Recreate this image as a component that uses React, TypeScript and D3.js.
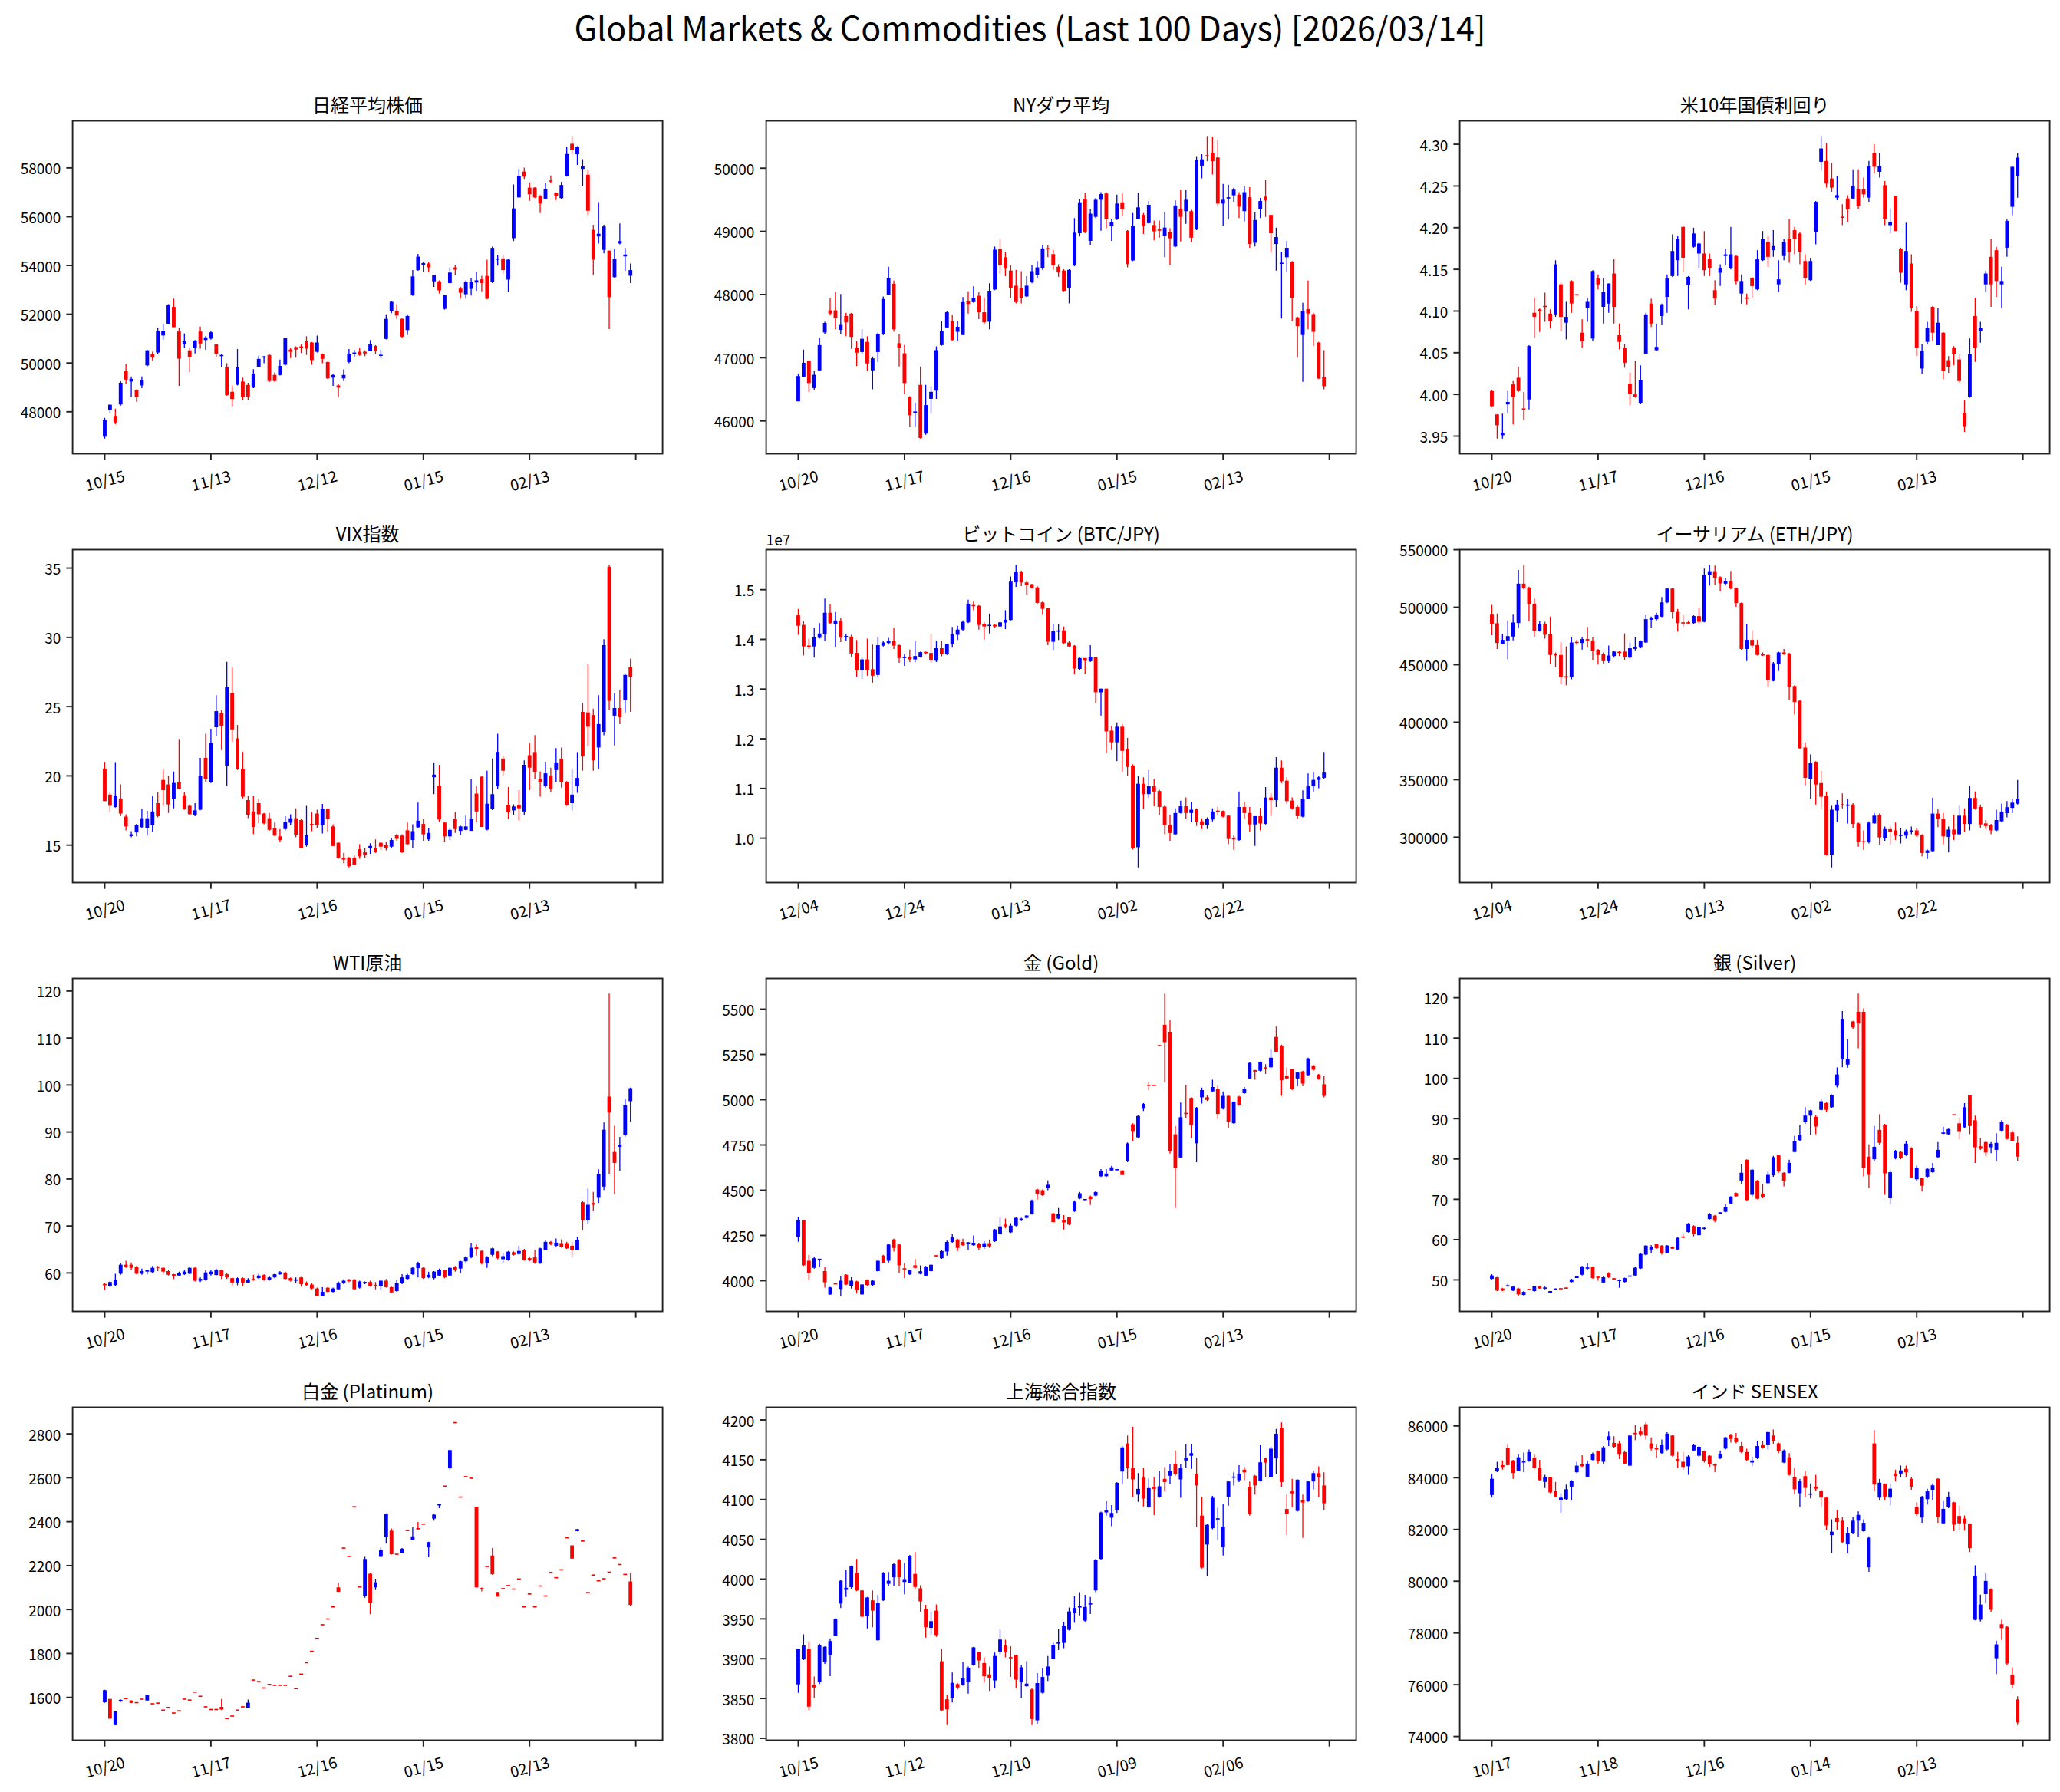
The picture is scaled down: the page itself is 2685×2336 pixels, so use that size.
import React from 'react';
import * as d3 from 'd3';

type OHLC = [number, number, number, number]; // open, high, low, close

// ---------- data ----------
const nikkeiOHLC: OHLC[] = [
[46980,47750,46900,47680],[48070,48340,47950,48290],[47830,48130,47490,47560],[48300,49250,48250,49190],[49670,49960,49140,49320],
[49240,49450,48620,49350],[48890,48920,48410,48620],[49080,49450,48970,49290],[49900,50540,49860,50520],[50360,50460,50110,50220],
[50430,51420,50360,51310],[51130,51630,50960,51310],[51600,52410,51600,52400],[52300,52640,51470,51470],[51290,51420,49060,50180],
[50780,51210,50620,50890],[50520,50620,49630,50230],[50620,50940,50390,50920],[51290,51490,50590,50800],[50940,51100,50540,51050],
[51000,51310,50960,51260],[50760,50780,50230,50380],[50280,50360,49850,50330],[49830,49990,48660,48680],[48820,49080,48230,48520],
[49110,50570,49080,49830],[49240,49400,48500,48620],[49100,49190,48500,48620],[48990,49750,48970,49560],[49850,50300,49830,50170],
[50220,50290,49990,50270],[50330,50360,49220,49260],[49510,49610,49240,49260],[49510,50140,49490,49880],[49930,51030,49900,51020],
[50550,50620,50200,50460],[50650,50680,50220,50550],[50680,50780,50410,50620],[50890,51100,50330,50590],[50840,50860,49930,50120],
[50460,51120,50430,50840],[50360,50390,49990,50170],[50040,50060,49350,49370],[49400,49560,49060,49510],[49080,49160,48620,48990],
[49370,49740,49260,49510],[50040,50570,49990,50380],[50360,50540,50250,50430],[50460,50620,50300,50330],[50460,50520,50280,50390],
[50500,50940,50490,50760],[50700,50730,50360,50500],[50300,50540,50200,50330],[50990,52000,50970,51810],[52140,52540,52040,52510],
[52150,52410,51810,51950],[51810,51830,51030,51080],[51350,52000,51150,51930],[52780,53810,52750,53550],[53810,54470,53780,54360],
[54020,54160,53740,54100],[54080,54130,53730,53920],[53350,53620,53120,53600],[53350,53390,52850,52980],[52220,52800,52190,52780],
[53280,53920,53260,53710],[53920,54030,53600,53830],[53050,53120,52640,52880],[52820,53390,52640,53330],[53040,53490,52770,53330],
[53300,53740,52960,53390],[53430,53580,52940,53280],[53570,54240,52610,52640],[53310,54770,53280,54720],[54240,54430,53990,54280],
[54290,54430,53670,53810],[53420,54260,52930,54240],[55120,57320,55000,56340],[56790,57960,56770,57660],[57850,58010,57550,57640],
[57190,57400,56650,56920],[57190,57210,56760,56790],[56840,56890,56150,56540],[56740,57370,56700,57130],[57470,57690,57370,57450],
[56980,57000,56680,56840],[56760,57430,56740,57300],[57670,58860,57640,58570],[58990,59310,58560,58750],[58560,58890,58120,58860],
[57960,58360,57270,58060],[57720,57900,56070,56240],[55460,55670,53620,54240],[55190,56600,54900,55300],[54640,55670,54500,55600],
[54610,54610,51390,52700],[53520,54690,53490,54260],[54900,55720,54870,55000],[54370,54720,53780,54450],[53580,54080,53280,53810],
];

const dowOHLC: OHLC[] = [
[46310,46750,46310,46710],[46700,47130,46690,46920],[46950,46960,46460,46600],[46520,46790,46490,46730],[46800,47320,46790,47200],
[47400,47570,47380,47550],[47750,47940,47670,47700],[47750,48040,47450,47630],[47440,48010,47370,47520],[47660,47710,47340,47560],
[47700,47710,47140,47330],[47150,47260,46870,47080],[47090,47450,47050,47300],[47250,47340,46790,46910],[46800,47020,46500,46990],
[47090,47400,46930,47370],[47370,47970,47360,47930],[48000,48440,47990,48260],[48170,48220,47410,47450],[47230,47380,46860,47150],
[47070,47200,46420,46600],[46380,46390,45910,46090],[46130,46290,45910,46150],[46570,46860,45720,45730],[45800,46570,45780,46250],
[46350,46550,46120,46460],[46480,47180,46350,47120],[47200,47580,47190,47430],[47480,47740,47470,47720],[47580,47680,47270,47280],
[47410,47580,47260,47490],[47360,47960,47360,47880],[47890,48050,47700,47850],[47880,48130,47870,47950],[47980,48040,47610,47720],
[47720,47950,47530,47560],[47570,48180,47450,48060],[48080,48760,48070,48710],[48720,48880,48330,48460],[48590,48670,48290,48410],
[48380,48460,47950,48100],[48140,48390,47860,47880],[48100,48370,47860,47950],[47970,48290,47960,48140],[48200,48460,48180,48370],
[48310,48530,48260,48430],[48420,48780,48390,48730],[48730,48780,48590,48720],[48640,48710,48390,48460],[48440,48480,48280,48350],
[48380,48400,48050,48060],[48100,48400,47860,48390],[48460,49210,48450,48980],[48970,49510,48920,49460],[49510,49610,48970,48990],
[48850,49350,48790,49280],[49230,49530,49210,49500],[49500,49620,49010,49590],[49600,49620,49050,49190],[49080,49200,48850,49150],
[49190,49580,49180,49440],[49460,49610,49250,49350],[49010,49020,48430,48480],[48540,49290,48530,49080],[49190,49610,49190,49380],
[49260,49290,48960,49090],[49130,49480,49120,49420],[49100,49170,48860,49000],[49030,49170,48900,49010],[48930,49300,48590,49060],
[48990,49050,48460,48890],[48760,49490,48750,49410],[49360,49650,48840,49230],[49320,49650,49120,49500],[49320,49340,48830,48900],
[49030,50180,49020,50130],[50040,50220,49840,50140],[50200,50510,50110,50190],[50240,50500,49900,50110],[50170,50450,49410,49440],
[49440,49750,49090,49500],[49520,49740,49190,49540],[49570,49690,49470,49660],[49580,49620,49210,49390],[49320,49710,49160,49620],
[49540,49700,48740,48800],[48820,49300,48760,49180],[49350,49530,49210,49480],[49550,49820,49230,49490],[49260,49260,48670,48970],
[48800,49060,48380,48910],[48490,48680,47620,48500],[48590,48850,48350,48740],[48520,48530,47580,47950],[47640,47650,47000,47500],
[47360,47870,46620,47740],[47770,48220,47450,47700],[47690,47710,47190,47410],[47240,47250,46660,46670],[46690,47120,46500,46550],
];

const us10yOHLC: OHLC[] = [
[4.004,4.005,3.985,3.986],[3.976,3.976,3.947,3.963],[3.951,3.977,3.947,3.954],[3.988,4.004,3.978,3.991],[4.012,4.016,3.964,3.997],
[4.020,4.033,4.003,4.004],[3.983,4.003,3.969,3.982],[3.994,4.059,3.982,4.058],[4.098,4.116,4.068,4.093],[4.102,4.103,4.075,4.100],
[4.106,4.122,4.087,4.105],[4.097,4.102,4.079,4.088],[4.096,4.161,4.093,4.156],[4.132,4.134,4.076,4.093],[4.086,4.111,4.066,4.093],
[4.136,4.137,4.098,4.109],[4.120,4.120,4.119,4.119],[4.074,4.090,4.056,4.064],[4.104,4.116,4.087,4.111],[4.067,4.149,4.064,4.148],
[4.139,4.144,4.126,4.132],[4.105,4.140,4.085,4.123],[4.109,4.133,4.098,4.133],[4.145,4.162,4.085,4.105],[4.071,4.085,4.054,4.063],
[4.056,4.060,4.032,4.038],[4.013,4.026,3.987,4.001],[4.000,4.040,3.996,3.997],[3.990,4.035,3.989,4.017],[4.049,4.098,4.049,4.096],
[4.109,4.115,4.081,4.085],[4.053,4.085,4.052,4.057],[4.094,4.109,4.083,4.108],[4.117,4.144,4.098,4.139],[4.142,4.192,4.141,4.172],
[4.161,4.190,4.142,4.186],[4.201,4.203,4.147,4.164],[4.131,4.142,4.102,4.141],[4.177,4.200,4.176,4.193],[4.169,4.182,4.151,4.181],
[4.169,4.196,4.142,4.149],[4.163,4.169,4.142,4.151],[4.125,4.137,4.107,4.115],[4.146,4.156,4.130,4.151],[4.166,4.175,4.155,4.168],
[4.151,4.201,4.150,4.168],[4.166,4.167,4.132,4.136],[4.121,4.144,4.109,4.136],[4.116,4.121,4.108,4.115],[4.140,4.141,4.115,4.130],
[4.126,4.173,4.125,4.162],[4.161,4.196,4.160,4.186],[4.183,4.190,4.153,4.165],[4.173,4.197,4.165,4.178],[4.132,4.161,4.123,4.138],
[4.166,4.186,4.161,4.183],[4.186,4.210,4.158,4.171],[4.197,4.201,4.168,4.186],[4.193,4.195,4.156,4.171],[4.160,4.168,4.132,4.140],
[4.137,4.164,4.136,4.160],[4.195,4.232,4.180,4.231],[4.279,4.310,4.269,4.295],[4.280,4.301,4.248,4.253],[4.259,4.277,4.243,4.248],
[4.236,4.262,4.233,4.239],[4.213,4.228,4.203,4.212],[4.235,4.239,4.207,4.222],[4.235,4.270,4.234,4.250],[4.246,4.270,4.222,4.226],
[4.246,4.260,4.236,4.240],[4.236,4.280,4.231,4.274],[4.290,4.300,4.266,4.273],[4.267,4.290,4.260,4.274],[4.251,4.256,4.203,4.210],
[4.203,4.223,4.193,4.207],[4.238,4.238,4.196,4.196],[4.175,4.176,4.134,4.146],[4.132,4.206,4.125,4.172],[4.157,4.168,4.099,4.104],
[4.100,4.106,4.046,4.056],[4.031,4.060,4.025,4.052],[4.063,4.087,4.060,4.080],[4.105,4.106,4.064,4.074],[4.059,4.104,4.059,4.086],
[4.074,4.075,4.018,4.028],[4.041,4.046,4.026,4.033],[4.056,4.058,4.035,4.048],[4.042,4.048,4.014,4.016],[3.978,3.993,3.955,3.962],
[3.997,4.067,3.996,4.048],[4.094,4.116,4.039,4.056],[4.076,4.087,4.062,4.080],[4.132,4.148,4.123,4.145],[4.165,4.187,4.105,4.132],
[4.173,4.177,4.117,4.136],[4.132,4.153,4.104,4.136],[4.176,4.210,4.165,4.208],[4.225,4.274,4.215,4.273],[4.262,4.290,4.236,4.284],
];

const vixOHLC: OHLC[] = [
[20.52,21.02,18.18,18.18],[18.65,18.87,17.38,17.84],[17.75,20.99,17.71,18.59],[18.37,19.38,17.09,17.28],[17.06,17.23,16.07,16.35],
[15.65,16.01,15.56,15.78],[15.92,16.53,15.64,16.44],[16.29,17.62,16.25,16.94],[16.25,17.47,15.69,16.94],[16.44,18.55,15.97,17.43],
[18.03,18.82,17.00,17.09],[19.71,20.46,17.84,18.97],[19.38,19.99,17.32,17.94],[18.35,20.31,17.66,19.49],[19.53,22.67,19.06,19.06],
[18.60,18.82,17.56,17.60],[17.84,17.94,17.19,17.23],[17.19,18.03,17.09,17.51],[17.56,21.30,17.52,20.00],[21.30,23.04,19.53,19.77],
[19.53,23.40,19.49,22.39],[23.51,25.83,22.89,24.67],[24.52,24.73,21.87,23.61],[20.74,28.23,19.25,26.39],[25.98,27.82,22.48,23.36],
[22.71,23.68,20.42,20.50],[20.52,21.73,18.37,18.50],[18.25,18.55,16.95,17.19],[17.43,18.55,15.78,16.31],[18.03,18.31,16.59,17.23],
[17.28,17.32,16.50,16.57],[16.94,17.32,16.03,16.10],[16.20,16.63,15.65,15.69],[15.63,16.16,15.22,15.37],[16.16,17.09,16.07,16.66],
[16.62,17.23,16.44,16.94],[16.94,17.66,15.56,15.75],[16.81,16.87,14.81,14.81],[15.00,17.84,14.89,15.73],[16.50,17.38,16.01,16.46],
[17.28,17.56,16.25,16.44],[16.44,17.97,15.84,17.62],[17.62,17.66,15.97,16.87],[16.35,16.50,14.94,14.94],[15.17,15.22,14.01,14.06],
[14.10,14.44,13.69,13.95],[14.10,14.14,13.39,13.48],[14.10,14.25,13.54,13.58],[14.70,15.07,14.01,14.19],[14.48,14.81,14.10,14.29],
[14.76,15.13,14.38,14.94],[14.81,15.41,14.44,14.48],[15.17,15.26,14.66,14.89],[15.04,15.22,14.63,14.76],[14.89,15.50,14.81,15.37],
[15.73,15.82,15.32,15.45],[15.69,15.78,14.44,14.48],[16.07,16.63,15.04,15.07],[15.37,16.50,14.76,16.01],[16.29,18.07,16.22,16.76],
[16.53,16.91,15.32,15.78],[15.41,16.25,15.32,15.88],[19.90,20.97,18.68,20.09],[19.30,20.80,16.68,16.85],[16.63,16.68,15.26,15.63],
[15.63,16.25,15.37,16.10],[16.87,17.38,15.88,16.16],[16.03,16.40,15.75,16.35],[16.10,17.13,16.07,16.35],[16.03,19.77,16.03,16.87],
[18.72,19.25,16.63,17.43],[19.94,20.00,16.31,16.31],[16.12,20.37,16.07,17.99],[17.62,21.25,17.53,18.68],[19.25,23.04,19.02,21.73],
[21.25,21.49,19.99,20.37],[17.90,19.19,16.91,17.38],[17.51,17.94,17.19,17.79],[17.88,18.97,16.81,17.66],[17.43,21.12,17.15,20.80],
[21.49,22.37,18.97,20.59],[21.72,22.95,19.75,20.28],[19.75,20.31,18.50,19.56],[19.25,21.02,19.15,20.18],[20.03,20.59,18.82,19.06],
[20.42,22.00,19.56,20.97],[21.25,22.05,19.15,19.53],[19.56,19.62,17.84,17.90],[18.03,20.50,17.51,18.65],[19.25,21.72,18.78,19.85],
[24.62,25.23,20.37,21.40],[24.58,28.10,22.18,23.55],[24.39,24.86,20.37,21.12],[22.05,25.83,20.50,23.74],[23.18,29.87,22.93,29.44],
[35.09,35.24,24.77,25.42],[24.35,25.98,22.20,24.90],[24.90,26.21,23.74,24.24],[25.46,27.33,24.58,27.29],[27.85,28.45,24.62,27.14],
];

// BTC/JPY in millions of yen
const btcOHLC: OHLC[] = [
[14.484,14.614,14.093,14.275],[14.291,14.364,13.676,13.858],[13.869,14.015,13.806,13.858],[13.858,14.239,13.634,14.041],[14.030,14.327,14.015,14.119],
[14.108,14.823,13.962,14.536],[14.536,14.718,14.317,14.327],[14.312,14.552,13.843,14.380],[14.380,14.432,13.947,14.041],[14.051,14.108,13.978,14.061],
[14.056,14.093,13.650,13.717],[13.728,13.988,13.248,13.378],[13.378,13.634,13.206,13.597],[13.597,14.015,13.269,13.378],[13.399,13.895,13.128,13.269],
[13.285,14.051,13.232,13.884],[13.874,13.962,13.858,13.937],[13.926,14.030,13.895,13.962],[13.962,14.239,13.806,13.874],[13.884,13.895,13.530,13.624],
[13.624,13.702,13.467,13.650],[13.650,13.796,13.545,13.597],[13.597,13.962,13.545,13.665],[13.650,13.754,13.634,13.743],[13.743,13.754,13.702,13.728],
[13.728,14.103,13.530,13.582],[13.571,13.962,13.545,13.822],[13.822,13.962,13.660,13.702],[13.702,13.910,13.686,13.910],[13.900,14.249,13.832,14.103],
[14.093,14.275,13.988,14.197],[14.197,14.380,14.171,14.353],[14.343,14.797,14.327,14.708],[14.692,14.760,14.588,14.666],[14.677,14.692,14.197,14.291],
[14.312,14.343,13.999,14.260],[14.270,14.520,14.119,14.291],[14.291,14.312,14.239,14.260],[14.260,14.353,14.249,14.343],[14.338,14.588,14.207,14.395],
[14.390,15.266,14.380,15.162],[15.151,15.501,15.057,15.355],[15.355,15.381,15.073,15.146],[15.146,15.162,14.901,15.094],[15.109,15.120,15.021,15.031],
[15.047,15.073,14.718,14.734],[14.744,14.760,14.499,14.614],[14.624,14.640,13.884,13.952],[13.952,14.301,13.790,14.161],[14.155,14.301,13.988,14.181],
[14.181,14.260,13.910,13.926],[13.937,13.962,13.843,13.858],[13.874,13.884,13.300,13.415],[13.405,13.634,13.373,13.624],[13.624,13.624,13.311,13.571],
[13.561,13.884,13.545,13.650],[13.639,13.650,12.727,12.935],[12.935,13.008,12.466,13.008],[13.008,13.008,11.720,12.148],[12.164,12.257,11.773,11.929],
[11.929,12.330,11.548,12.242],[12.242,12.294,11.340,11.757],[11.798,12.018,11.251,11.434],[11.460,11.486,9.776,9.807],[9.817,11.251,9.411,11.095],
[11.095,11.225,10.589,10.886],[10.886,11.371,10.808,11.043],[11.043,11.189,10.641,10.938],[10.949,10.975,10.469,10.626],[10.636,10.652,10.078,10.261],
[10.261,10.469,9.948,10.104],[10.078,10.599,10.068,10.506],[10.506,10.756,10.495,10.641],[10.641,10.818,10.391,10.506],[10.506,10.730,10.328,10.573],
[10.584,10.599,10.245,10.328],[10.339,10.401,10.182,10.261],[10.261,10.417,10.182,10.380],[10.375,10.599,10.339,10.537],[10.547,10.626,10.469,10.537],
[10.547,10.558,10.417,10.433],[10.453,10.453,9.880,9.984],[10.000,10.052,9.765,9.974],[9.963,10.938,9.948,10.626],[10.626,10.730,10.391,10.506],
[10.506,10.626,10.130,10.276],[10.276,10.443,9.844,10.443],[10.443,10.610,10.156,10.297],[10.287,11.027,10.276,10.818],[10.818,10.902,10.443,10.766],
[10.766,11.632,10.626,11.418],[11.418,11.564,11.110,11.147],[11.157,11.225,10.693,10.745],[10.756,10.818,10.573,10.599],[10.626,10.652,10.380,10.443],
[10.433,10.964,10.417,10.797],[10.797,11.303,10.782,11.043],[11.043,11.329,10.938,11.173],[11.173,11.251,11.006,11.225],[11.215,11.736,11.199,11.319],
];

// ETH/JPY in thousands of yen
const ethOHLC: OHLC[] = [
[493.6,502.0,475.6,485.5],[486.0,494.6,463.7,468.9],[468.2,476.5,467.7,471.6],[471.1,488.5,454.7,474.9],[474.5,493.6,471.1,486.7],
[486.2,532.4,481.7,520.5],[520.5,536.9,515.5,516.6],[517.1,517.8,487.8,502.7],[503.1,507.6,474.3,479.4],[479.4,487.8,478.8,485.5],
[485.5,487.3,472.7,476.1],[476.5,491.8,450.8,458.5],[459.6,460.7,447.9,458.0],[458.5,469.8,433.7,439.3],[440.0,465.9,432.1,438.9],
[439.3,473.8,437.3,469.3],[469.8,471.6,467.1,468.9],[468.9,474.3,463.2,472.3],[472.3,482.8,464.8,471.1],[471.1,474.3,454.0,462.1],
[463.0,463.7,450.1,458.5],[459.2,460.7,450.8,453.1],[453.1,466.6,451.7,458.0],[457.6,462.1,456.2,461.4],[461.0,462.1,457.6,460.5],
[461.4,477.2,454.0,456.9],[456.2,469.3,455.3,464.3],[463.7,473.8,462.5,465.3],[464.8,471.1,464.3,470.4],[469.3,493.0,468.9,489.6],
[489.1,491.8,482.4,490.7],[489.6,495.2,488.5,493.0],[491.8,508.8,491.4,504.2],[504.2,516.6,503.6,516.2],[516.2,516.6,490.0,495.7],
[495.9,498.6,478.8,486.2],[486.7,493.0,482.8,486.0],[486.7,488.5,485.1,486.0],[486.2,493.0,485.5,492.3],[492.3,499.7,486.2,487.3],
[487.3,533.5,486.9,528.4],[527.9,536.9,518.9,531.3],[531.3,536.3,519.3,525.2],[526.1,526.8,513.9,520.7],[520.5,525.2,518.9,523.0],
[523.0,531.3,515.5,516.2],[516.6,517.1,500.4,503.6],[503.6,504.2,463.0,463.7],[463.7,485.1,453.1,471.6],[471.6,480.1,464.3,466.6],
[467.1,471.6,458.0,458.5],[459.2,460.7,457.6,458.0],[458.5,459.2,431.0,436.6],[435.9,452.4,435.5,451.3],[450.8,461.4,444.5,460.7],
[460.7,463.7,458.5,459.2],[459.8,460.3,419.7,431.0],[431.4,432.1,406.6,417.5],[418.6,419.7,376.9,377.3],[378.0,382.5,345.3,351.6],
[350.9,371.9,333.6,364.5],[365.6,366.1,328.4,345.8],[347.1,357.7,324.6,335.2],[335.9,339.7,284.0,284.5],[284.5,327.3,273.7,323.9],
[323.2,332.3,313.3,328.4],[328.4,338.1,325.0,327.8],[327.3,333.6,311.9,328.4],[328.4,329.6,307.5,311.5],[312.0,312.7,291.7,296.2],
[296.2,305.9,289.0,295.8],[295.8,313.8,294.6,312.7],[312.0,321.0,311.5,318.7],[319.4,320.5,293.5,299.8],[299.1,309.3,296.9,307.0],
[307.0,309.7,293.8,304.8],[305.9,312.7,297.6,301.4],[301.4,307.5,294.6,301.8],[301.4,306.6,298.5,305.2],[304.8,309.3,302.5,305.9],
[305.9,307.5,300.3,301.4],[301.8,302.5,283.4,286.3],[286.3,289.4,281.1,288.5],[287.9,334.5,287.2,320.5],[320.5,324.6,308.8,315.6],
[316.0,321.0,293.9,300.7],[300.3,309.3,286.7,306.6],[306.6,319.4,297.6,302.5],[302.5,327.3,302.1,318.7],[318.7,325.0,304.8,311.5],
[311.5,344.9,305.9,334.1],[334.1,339.7,323.9,325.0],[326.2,328.4,308.1,311.1],[312.0,314.9,307.0,309.7],[310.4,311.5,302.5,305.9],
[305.9,323.9,305.2,314.9],[313.8,329.1,313.3,322.3],[320.9,331.4,317.2,326.1],[325.5,332.9,320.9,330.0],[329.1,349.8,328.4,333.4],
];

const wtiOHLC: OHLC[] = [
[57.63,57.80,56.30,57.41],[57.24,58.35,56.97,58.07],[57.41,59.83,57.24,58.51],[59.83,62.04,59.61,61.76],[61.76,62.59,61.10,61.38],
[61.76,62.21,60.55,61.10],[61.38,61.49,59.72,59.83],[59.83,60.94,59.61,60.39],[60.28,60.72,59.72,60.66],[60.17,61.49,60.00,61.10],
[61.38,61.49,60.39,61.10],[61.10,61.27,59.83,60.28],[60.39,60.72,59.45,59.61],[59.72,59.83,58.73,59.28],[59.45,60.28,59.28,60.00],
[59.72,60.55,59.56,60.28],[59.83,61.27,59.72,61.10],[61.10,61.27,58.18,58.35],[58.35,59.06,58.07,58.73],[58.51,60.55,58.35,60.11],
[59.72,60.72,59.45,60.28],[59.56,60.94,59.45,60.72],[60.55,60.72,58.73,59.28],[59.72,60.00,58.73,59.06],[58.90,59.06,57.35,57.96],
[57.96,59.06,57.35,58.90],[58.90,59.06,57.24,57.96],[57.96,58.90,57.80,58.62],[58.73,59.61,58.35,58.46],[58.90,59.83,58.73,59.45],
[59.56,59.72,58.35,58.51],[58.51,59.28,58.35,59.06],[59.06,59.83,58.90,59.72],[59.72,60.39,59.61,60.17],[60.11,60.28,58.62,58.73],
[58.90,59.06,58.18,58.35],[58.35,59.06,57.80,58.62],[59.06,59.17,57.08,57.63],[57.96,58.18,57.24,57.41],[57.52,57.80,56.53,56.69],
[56.69,56.86,55.04,55.15],[55.15,56.97,55.04,55.97],[56.86,56.97,55.86,55.97],[55.97,56.86,55.86,56.69],[56.53,58.18,56.42,57.96],
[57.80,58.62,57.63,58.35],[58.62,58.73,58.07,58.24],[58.62,58.73,56.42,56.53],[56.86,58.35,56.69,58.18],[57.80,58.18,57.63,58.07],
[58.07,58.35,57.08,57.24],[57.41,58.07,56.53,57.30],[57.24,58.51,56.30,58.35],[58.35,58.73,56.86,56.97],[56.97,57.08,55.75,55.86],
[56.14,58.51,55.97,57.80],[57.80,59.72,57.63,59.06],[58.73,59.83,58.51,59.56],[59.72,61.38,59.61,61.10],[61.05,62.37,59.06,62.04],
[61.10,61.27,58.73,58.90],[59.06,60.28,58.90,59.61],[58.90,60.39,58.62,60.28],[59.45,60.94,59.28,60.66],[60.55,60.72,58.90,59.06],
[59.45,61.38,59.28,61.10],[61.27,61.49,60.28,60.55],[60.94,62.59,60.00,62.48],[62.48,63.58,62.21,63.31],[63.31,66.45,63.14,65.35],
[65.52,66.07,63.70,65.13],[64.69,64.80,61.82,62.04],[62.04,63.58,61.10,63.31],[63.86,65.35,63.58,65.24],[64.58,64.69,62.92,63.14],
[62.92,64.25,62.21,63.58],[62.76,64.69,62.59,64.52],[64.41,64.58,63.70,63.86],[64.03,65.79,63.86,64.69],[64.96,65.13,62.59,62.76],
[63.14,63.31,62.48,62.76],[63.31,64.96,61.93,62.21],[62.04,65.35,61.93,65.24],[64.96,66.89,64.80,66.62],[66.62,66.78,65.90,66.07],
[65.79,67.33,65.52,66.45],[66.34,67.17,65.35,65.52],[66.34,66.62,65.13,65.24],[65.79,66.62,63.47,64.96],[64.96,67.72,64.80,67.00],
[75.06,75.28,69.21,71.20],[71.20,77.92,70.48,74.51],[74.89,77.26,73.24,74.51],[75.99,82.07,74.89,80.96],[78.38,92.02,77.67,90.48],
[97.54,119.45,81.12,94.12],[85.75,91.32,76.82,83.43],[86.85,88.95,81.78,87.29],[89.39,97.11,89.06,95.68],[96.56,99.43,92.13,99.32],
];

const goldOHLC: OHLC[] = [
[4243,4354,4215,4334],[4334,4336,4081,4085],[4110,4143,4004,4043],[4071,4133,4067,4124],[4117,4119,4076,4119],
[4053,4076,3962,3991],[3924,3966,3921,3963],[3984,3984,3981,3981],[3954,4024,3914,4000],[4033,4036,3976,3979],
[3971,4019,3957,4000],[3996,4000,3929,3947],[3924,3981,3921,3979],[4004,4007,3971,3976],[3976,4004,3971,4000],
[4053,4114,4050,4110],[4139,4143,4096,4100],[4110,4204,4100,4200],[4228,4232,4161,4181],[4200,4204,4043,4085],
[4067,4096,4014,4064],[4035,4061,4032,4057],[4085,4121,4067,4071],[4038,4085,4035,4052],[4028,4081,4024,4076],
[4053,4091,4050,4088],[4139,4140,4135,4136],[4124,4167,4121,4164],[4161,4221,4139,4214],[4214,4261,4210,4239],
[4228,4232,4164,4181],[4214,4232,4193,4196],[4207,4214,4171,4210],[4196,4250,4193,4210],[4204,4210,4171,4181],
[4186,4218,4176,4207],[4207,4228,4181,4190],[4218,4286,4214,4283],[4257,4353,4253,4300],[4310,4343,4290,4300],
[4267,4318,4264,4304],[4304,4350,4300,4347],[4333,4347,4329,4343],[4347,4362,4343,4360],[4368,4448,4365,4444],
[4504,4508,4448,4479],[4500,4504,4468,4472],[4511,4554,4500,4530],[4372,4376,4322,4324],[4343,4401,4340,4368],
[4336,4362,4283,4322],[4350,4354,4307,4310],[4383,4444,4380,4437],[4454,4490,4450,4483],[4447,4450,4446,4449],
[4465,4470,4418,4451],[4470,4494,4466,4490],[4577,4616,4573,4606],[4577,4616,4573,4592],[4609,4635,4606,4626],
[4612,4615,4611,4614],[4609,4612,4583,4584],[4659,4764,4655,4759],[4864,4870,4769,4827],[4792,4913,4788,4910],
[4950,4981,4938,4977],[5082,5096,5053,5077],[5080,5081,5077,5078],[5300,5301,5296,5297],[5414,5586,5096,5318],
[5375,5440,4702,4716],[4809,4855,4401,4623],[4681,4984,4678,4903],[4927,5082,4898,4921],[5010,5013,4788,4860],
[4759,4960,4655,4956],[5013,5067,4979,5053],[5013,5024,4993,4999],[5046,5110,5042,5070],[5060,5079,4893,4921],
[4950,5046,4946,5021],[5021,5024,4845,4878],[4870,4991,4867,4989],[5017,5021,4967,4970],[5036,5070,5032,5060],
[5117,5208,5113,5203],[5163,5165,5110,5153],[5160,5211,5156,5208],[5178,5196,5142,5173],[5179,5278,5175,5232],
[5347,5404,5265,5265],[5299,5304,5021,5107],[5132,5179,5110,5117],[5168,5170,5053,5060],[5117,5153,5074,5150],
[5156,5160,5074,5089],[5136,5232,5132,5228],[5189,5193,5160,5165],[5139,5142,5110,5113],[5085,5132,5013,5021],
];

const silverOHLC: OHLC[] = [
[50.26,51.42,50.13,51.10],[50.65,50.77,47.23,47.35],[47.87,48.06,47.23,47.35],[48.39,48.97,48.32,48.65],[47.35,48.52,47.23,48.32],
[47.87,48.06,45.94,46.39],[46.26,47.23,46.13,47.03],[47.68,47.74,47.48,47.55],[47.23,48.52,47.03,48.39],[48.39,48.52,47.81,47.87],
[47.87,48.32,47.68,48.06],[46.77,47.23,46.77,47.23],[47.55,47.87,47.55,47.87],[47.87,47.87,47.74,47.74],[48.06,48.06,47.87,47.87],
[49.48,50.26,49.35,50.13],[50.45,50.90,50.45,50.90],[51.29,53.48,51.10,53.35],[52.84,54.13,52.58,53.03],[53.23,53.35,50.26,50.45],
[50.77,50.90,49.81,50.52],[49.35,50.90,49.16,50.65],[51.74,51.87,50.45,50.65],[50.39,50.45,50.00,50.13],[49.74,50.13,48.06,50.00],
[49.48,50.58,49.35,50.45],[50.84,51.10,50.77,51.03],[51.10,53.23,50.90,53.03],[52.84,56.71,52.71,56.45],[56.26,58.65,56.06,58.52],
[57.55,58.65,56.58,58.19],[58.84,59.03,57.74,57.87],[58.52,58.65,56.26,56.58],[56.71,58.65,56.58,58.52],[58.19,58.32,57.68,57.74],
[57.55,60.58,57.35,60.45],[60.77,61.42,60.32,60.45],[61.87,64.13,61.74,64.00],[63.35,63.55,60.77,61.42],[61.10,63.16,60.97,63.03],
[62.65,63.03,62.52,62.90],[65.10,66.58,64.97,66.26],[65.94,66.13,64.32,64.65],[66.45,66.77,66.45,66.77],[66.90,68.84,66.77,68.06],
[68.97,70.77,68.84,70.65],[71.55,71.68,70.65,70.77],[74.65,78.84,73.68,76.58],[79.81,79.94,69.61,69.81],[71.10,77.55,70.45,77.35],
[74.65,74.77,70.00,70.13],[71.42,73.68,70.26,70.45],[74.00,76.90,73.68,76.06],[75.94,80.77,75.61,80.45],[80.90,81.10,76.58,76.90],
[76.58,76.71,73.23,74.65],[76.58,79.81,76.45,79.03],[81.74,85.74,81.61,84.52],[84.65,88.32,84.45,85.94],[89.16,92.84,88.71,90.77],
[90.77,92.19,85.94,92.06],[90.45,90.90,86.13,88.06],[92.19,94.97,92.06,94.32],[93.87,94.13,91.55,92.19],[92.84,96.06,92.58,95.94],
[98.19,102.71,97.74,100.97],[104.71,116.71,102.77,114.77],[103.42,109.68,102.65,104.84],[114.13,114.26,112.32,112.65],[116.52,121.03,107.48,113.61],
[116.52,117.35,75.68,77.81],[80.58,83.61,72.84,76.06],[79.94,88.19,79.48,83.03],[87.23,91.10,83.55,84.00],[88.52,88.71,71.10,76.45],
[70.26,77.23,68.71,76.71],[80.13,82.26,79.94,82.06],[81.74,81.87,79.94,80.32],[80.97,84.45,80.77,83.81],[82.71,82.90,75.29,75.42],
[74.97,78.39,74.65,77.87],[75.29,75.42,71.94,73.35],[75.61,77.74,75.42,77.55],[76.71,79.03,76.58,77.74],[80.45,84.19,80.32,82.26],
[86.26,88.00,86.13,86.58],[86.13,87.55,85.94,87.42],[91.00,91.03,90.84,90.90],[88.84,90.13,84.84,86.90],[87.87,93.87,87.68,92.84],
[95.81,95.94,86.13,88.19],[89.61,90.77,79.03,82.90],[83.16,85.10,82.26,82.52],[84.19,84.32,80.77,81.61],[82.90,84.19,81.42,83.81],
[82.26,86.39,79.48,84.00],[87.03,89.61,86.90,89.16],[88.52,88.71,84.84,84.97],[86.58,87.03,84.32,84.45],[84.00,85.61,79.48,80.58],
];

const platinumOHLC: OHLC[] = [
[1578,1635,1575,1633],[1593,1593,1503,1503],[1474,1536,1474,1536],[1581,1590,1580,1589],[1596,1597,1593,1594],
[1586,1587,1574,1575],[1577,1577,1575,1575],[1593,1593,1591,1591],[1586,1611,1585,1610],[1572,1572,1570,1570],
[1575,1575,1573,1573],[1543,1543,1541,1541],[1555,1555,1553,1553],[1530,1530,1528,1528],[1540,1540,1538,1538],
[1593,1593,1591,1591],[1589,1589,1587,1587],[1625,1625,1623,1623],[1606,1606,1604,1604],[1558,1558,1556,1556],
[1546,1546,1544,1544],[1546,1546,1544,1544],[1557,1593,1543,1545],[1505,1505,1503,1503],[1516,1516,1514,1514],
[1543,1543,1541,1541],[1558,1558,1556,1556],[1553,1590,1550,1576],[1680,1680,1678,1678],[1673,1673,1671,1671],
[1644,1644,1642,1642],[1660,1660,1658,1658],[1656,1656,1654,1654],[1656,1656,1654,1654],[1656,1656,1654,1654],
[1697,1697,1695,1695],[1641,1641,1639,1639],[1707,1707,1705,1705],[1759,1759,1757,1757],[1811,1811,1809,1809],
[1870,1870,1868,1868],[1932,1932,1930,1930],[1958,1958,1956,1956],[2013,2013,2011,2011],[2101,2119,2080,2081],
[2281,2281,2279,2279],[2243,2243,2241,2241],[2469,2469,2467,2467],[2104,2104,2102,2102],[2062,2240,2054,2230],
[2163,2167,1979,2032],[2101,2140,2089,2124],[2240,2283,2238,2270],[2330,2438,2300,2434],[2359,2369,2250,2252],
[2253,2253,2251,2251],[2258,2280,2256,2277],[2361,2361,2359,2359],[2318,2375,2315,2333],[2370,2399,2364,2366],
[2390,2390,2388,2388],[2283,2309,2238,2307],[2414,2434,2405,2432],[2474,2481,2462,2480],[2563,2563,2561,2561],
[2643,2728,2637,2726],[2852,2852,2850,2850],[2513,2513,2511,2511],[2606,2606,2604,2604],[2599,2599,2597,2597],
[2468,2468,2101,2101],[2098,2100,2083,2092],[2197,2197,2195,2195],[2246,2280,2158,2161],[2080,2080,2059,2059],
[2096,2096,2094,2094],[2110,2110,2108,2108],[2094,2094,2092,2092],[2140,2140,2138,2138],[2013,2013,2011,2011],
[2072,2072,2070,2070],[2013,2013,2011,2011],[2108,2108,2106,2106],[2063,2063,2061,2061],[2170,2170,2168,2168],
[2146,2146,2144,2144],[2182,2182,2180,2180],[2328,2328,2326,2326],[2292,2292,2232,2232],[2357,2367,2356,2366],
[2313,2313,2311,2311],[2078,2078,2076,2076],[2158,2158,2156,2156],[2132,2132,2130,2130],[2141,2141,2139,2139],
[2171,2171,2169,2169],[2236,2236,2234,2234],[2206,2206,2204,2204],[2161,2161,2159,2159],[2128,2167,2015,2021],
];

const shanghaiOHLC: OHLC[] = [
[3867.8,3912.3,3857.2,3912.3],[3899.1,3930.7,3898.4,3916.6],[3912.3,3921.5,3835.1,3839.7],[3867.1,3877.6,3850.6,3863.8],[3870.4,3918.9,3868.1,3916.6],
[3895.8,3915.6,3893.5,3914.9],[3905.0,3925.5,3878.0,3922.2],[3928.8,3950.5,3928.1,3950.2],[3969.3,3999.0,3963.7,3998.0],[3986.5,4011.2,3977.6,3989.1],
[3989.8,4017.1,3987.5,4016.5],[4007.9,4025.4,3984.8,3985.8],[3985.8,3986.8,3951.8,3952.8],[3953.5,3977.6,3938.0,3976.9],[3973.3,3985.8,3939.6,3960.4],
[3923.2,3980.2,3922.5,3970.0],[3973.3,4008.9,3972.6,4007.9],[3994.1,4008.9,3990.8,3998.0],[4002.3,4020.4,3990.8,4018.8],[4024.4,4025.4,3990.8,4002.3],
[3996.4,4020.4,3980.9,4000.0],[3995.7,4030.3,3994.7,4029.4],[4006.6,4034.3,3987.5,3990.1],[3988.5,3992.4,3958.8,3972.0],[3962.1,3967.7,3926.5,3939.6],
[3938.7,3959.4,3929.8,3947.2],[3960.4,3968.3,3927.5,3929.8],[3896.8,3912.3,3834.1,3835.1],[3849.0,3853.9,3816.6,3836.4],[3850.6,3882.6,3845.0,3869.7],
[3868.1,3869.4,3861.5,3863.8],[3867.1,3895.8,3866.1,3876.0],[3870.4,3890.2,3856.2,3888.5],[3892.5,3914.9,3891.2,3914.3],[3908.3,3909.0,3888.5,3897.8],
[3894.5,3901.7,3870.4,3878.0],[3880.3,3890.2,3859.5,3875.3],[3872.7,3907.7,3862.8,3903.4],[3909.0,3936.3,3905.0,3924.1],[3916.6,3923.8,3901.7,3909.0],
[3901.7,3915.6,3877.0,3900.7],[3904.4,3905.0,3862.8,3873.7],[3870.4,3892.5,3850.6,3889.2],[3865.4,3896.8,3864.8,3868.7],[3861.5,3862.8,3816.6,3824.2],
[3822.6,3881.9,3818.6,3869.4],[3857.2,3887.9,3856.2,3877.0],[3878.6,3903.4,3872.0,3890.2],[3900.1,3919.9,3899.1,3917.5],[3918.9,3937.3,3910.9,3920.9],
[3919.9,3946.2,3913.3,3941.3],[3936.3,3964.4,3935.4,3959.4],[3957.1,3978.2,3945.3,3963.7],[3964.4,3983.5,3954.5,3965.7],[3947.9,3980.2,3946.2,3965.0],
[3968.3,3977.6,3956.1,3969.3],[3985.8,4025.4,3983.5,4023.7],[4025.4,4084.8,4024.4,4083.8],[4083.8,4097.9,4079.8,4086.4],[4077.2,4093.0,4066.6,4083.1],
[4086.4,4122.0,4083.1,4121.0],[4135.2,4167.2,4120.0,4165.6],[4170.5,4180.4,4126.0,4139.2],[4139.2,4191.3,4102.9,4125.3],[4106.2,4133.2,4097.0,4113.4],
[4127.6,4139.8,4091.4,4101.2],[4090.4,4126.6,4089.7,4114.4],[4116.1,4127.6,4080.5,4113.4],[4102.9,4135.9,4102.2,4116.7],[4126.0,4140.8,4110.2,4122.0],
[4129.9,4145.1,4120.0,4135.9],[4145.1,4161.6,4129.9,4131.9],[4125.3,4144.1,4102.2,4139.8],[4149.1,4169.5,4139.2,4152.4],[4155.0,4169.5,4138.5,4158.3],
[4132.6,4152.4,4065.0,4117.7],[4079.8,4102.9,4013.2,4014.5],[4043.5,4069.9,4003.3,4068.3],[4064.0,4104.5,4062.7,4102.2],[4074.9,4089.7,4049.5,4076.5],
[4040.2,4094.7,4029.7,4066.0],[4102.9,4123.3,4092.3,4122.7],[4127.6,4134.2,4117.7,4128.6],[4124.3,4143.1,4122.0,4132.6],[4137.5,4140.8,4124.3,4134.2],
[4116.1,4122.7,4079.8,4081.5],[4129.9,4130.9,4106.2,4117.7],[4123.3,4168.2,4122.7,4146.8],[4151.7,4153.0,4127.6,4146.4],[4128.6,4166.2,4127.6,4163.9],
[4151.7,4188.6,4131.9,4182.7],[4189.6,4196.9,4116.1,4122.0],[4088.1,4106.2,4055.1,4081.5],[4110.2,4126.0,4090.4,4107.8],[4085.7,4125.3,4084.8,4125.0],
[4098.9,4106.2,4051.8,4096.3],[4097.9,4123.3,4097.0,4122.7],[4122.7,4135.9,4112.8,4133.2],[4133.2,4141.8,4102.9,4128.6],[4117.7,4134.2,4087.1,4095.3],
];

const sensexOHLC: OHLC[] = [
[83332,84142,83230,83960],[84243,84618,84213,84365],[84486,84668,84314,84415],[85144,85276,84466,84486],[84668,84689,83960,84182],
[84263,84922,84243,84790],[84587,84972,84213,84648],[84648,85094,84618,84992],[84770,84891,84344,84385],[84385,84689,83889,83909],
[83838,84111,83605,84010],[84010,84041,83402,83433],[83504,83838,83230,83271],[83149,83402,82643,83230],[83170,83737,83149,83554],
[83656,83909,83129,83878],[84213,84618,84182,84466],[84516,84871,84415,84446],[84041,84668,84010,84547],[84689,84972,84668,84922],
[85023,85053,84547,84648],[84618,85225,84516,85175],[85458,85782,85225,85600],[85347,85600,85154,85195],[85327,85428,84719,84891],
[84992,85053,84516,84547],[84466,85661,84446,85630],[85732,86035,85458,85681],[85782,85965,85600,85681],[86066,86137,85478,85630],
[85327,85560,85053,85124],[85154,85276,84770,85094],[84952,85479,84922,85256],[85094,85762,85053,85701],[85630,85661,84820,84851],
[84719,84992,84365,84648],[84618,84992,84314,84415],[84446,84871,84111,84820],[85053,85296,85023,85256],[84851,85225,84820,85195],
[85023,85053,84587,84648],[84851,84871,84415,84516],[84516,84547,84213,84466],[84749,85053,84719,84922],[85124,85580,85094,85560],
[85661,85701,85357,85499],[85529,85732,85327,85377],[85225,85377,84952,84992],[84992,85124,84648,84689],[84587,84820,84446,84668],
[84770,85428,84719,85225],[85256,85428,85124,85154],[85256,85782,85094,85762],[85630,85863,85296,85428],[85327,85357,84952,85023],
[84587,85094,84567,85053],[84790,84952,84081,84111],[84010,84385,83372,83554],[83402,83960,82866,83858],[84061,84243,83251,83605],
[83352,83777,83200,83382],[83656,84111,83473,83575],[83504,83554,82896,83230],[83230,83251,81985,82157],[81782,82390,81104,81914],
[82441,82765,81985,82289],[82339,82491,81478,81509],[81428,82086,81073,81853],[81853,82491,81813,82339],[82339,82694,81711,82562],
[81934,82390,81914,82258],[80537,81732,80364,81681],[85327,85833,83504,83737],[83230,83960,83129,83808],[83757,83777,83149,83271],
[83230,83757,82927,83575],[84162,84314,83858,84061],[84162,84466,84041,84284],[84344,84466,84041,84213],[83960,84010,83534,83656],
[82866,83048,82521,82592],[82461,83301,82258,83271],[83170,83575,82967,83473],[83534,83777,83149,83706],[83960,83980,82258,82491],
[82238,83099,82218,82795],[82866,83453,82825,83271],[83048,83068,81934,82187],[82521,82927,81985,82238],[82420,82542,81955,82238],
[82218,82238,81124,81276],[78511,80618,78491,80213],[78511,79483,78440,79099],[79504,80294,79180,80010],[79686,79726,78815,78896],
[77023,77701,76415,77559],[78339,78511,77732,78187],[78238,78288,76749,76820],[76364,76668,75858,76010],[75433,75554,74440,74541],
];

// x tick labels (dates at indices 0, 20, 40, 60, 80)
const nikkeiDates = ['10/15', '11/13', '12/12', '01/15', '02/13'];
const usDates = ['10/20', '11/17', '12/16', '01/15', '02/13'];
const cryptoDates = ['12/04', '12/24', '01/13', '02/02', '02/22'];
const shanghaiDates = ['10/15', '11/12', '12/10', '01/09', '02/06'];
const sensexDates = ['10/17', '11/18', '12/16', '01/14', '02/13'];

const titles = [
  '日経平均株価', 'NYダウ平均', '米10年国債利回り',
  'VIX指数', 'ビットコイン (BTC/JPY)', 'イーサリアム (ETH/JPY)',
  'WTI原油', '金 (Gold)', '銀 (Silver)',
  '白金 (Platinum)', '上海総合指数', 'インド SENSEX',
];

const MAIN_TITLE = 'Global Markets & Commodities (Last 100 Days) [2026/03/14]';

type Spec = {
  title: string;
  data: OHLC[];
  dates: string[];
  step: number;
  fmt: (v: number) => string;
  offset?: string;
};

const specs: Spec[] = [
  { title: titles[0], data: nikkeiOHLC, dates: nikkeiDates, step: 2000, fmt: (v) => String(Math.round(v)) },
  { title: titles[1], data: dowOHLC, dates: usDates, step: 1000, fmt: (v) => String(Math.round(v)) },
  { title: titles[2], data: us10yOHLC, dates: usDates, step: 0.05, fmt: (v) => v.toFixed(2) },
  { title: titles[3], data: vixOHLC, dates: usDates, step: 5, fmt: (v) => String(Math.round(v)) },
  { title: titles[4], data: btcOHLC, dates: cryptoDates, step: 1, fmt: (v) => (v / 10).toFixed(1), offset: '1e7' },
  { title: titles[5], data: ethOHLC, dates: cryptoDates, step: 50, fmt: (v) => String(Math.round(v * 1000)) },
  { title: titles[6], data: wtiOHLC, dates: usDates, step: 10, fmt: (v) => String(Math.round(v)) },
  { title: titles[7], data: goldOHLC, dates: usDates, step: 250, fmt: (v) => String(Math.round(v)) },
  { title: titles[8], data: silverOHLC, dates: usDates, step: 10, fmt: (v) => String(Math.round(v)) },
  { title: titles[9], data: platinumOHLC, dates: usDates, step: 200, fmt: (v) => String(Math.round(v)) },
  { title: titles[10], data: shanghaiOHLC, dates: shanghaiDates, step: 50, fmt: (v) => String(Math.round(v)) },
  { title: titles[11], data: sensexOHLC, dates: sensexDates, step: 2000, fmt: (v) => String(Math.round(v)) },
];

// ---------- layout ----------
const W = 2685;
const H = 2336;
const COL_X = [94.6, 998.6, 1902.6];
const ROW_Y = [157.5, 716.5, 1275.5, 1834.5];
const AX_W = 769;
const AX_H = 434;
const FONT = '"Noto Sans CJK JP", "Noto Sans", sans-serif';
const UP = '#0000ff';
const DOWN = '#ff0000';
const AXIS = '#222222';
const TICK_LEN = 8.2;
const TICK_FS = 19;
const TITLE_FS = 24;
const MAIN_FS = 43;

function Panel({ spec, x0, y0 }: { spec: Spec; x0: number; y0: number }) {
  const xs = d3.scaleLinear().domain([-6.05, 105.05]).range([x0, x0 + AX_W]);
  const lo = d3.min(spec.data, (d) => d[2]) as number;
  const hi = d3.max(spec.data, (d) => d[1]) as number;
  const pad = (hi - lo) * 0.05;
  const ys = d3.scaleLinear().domain([lo - pad, hi + pad]).range([y0 + AX_H, y0]);
  const [dmin, dmax] = ys.domain();
  const k0 = Math.ceil(dmin / spec.step - 1e-9);
  const k1 = Math.floor(dmax / spec.step + 1e-9);
  const yTicks = d3.range(k0, k1 + 1).map((k) => k * spec.step);
  const xTicks = [0, 20, 40, 60, 80, 100];
  const bw = xs(0.35) - xs(-0.35);
  const bottom = y0 + AX_H;
  const clipId = `clip-${Math.round(x0)}-${Math.round(y0)}`;

  return (
    <g>
      <defs>
        <clipPath id={clipId}>
          <rect x={x0} y={y0} width={AX_W} height={AX_H} />
        </clipPath>
      </defs>
      <g clipPath={`url(#${clipId})`}>
        {spec.data.map((d, i) => {
          const [o, h, l, c] = d;
          const col = c > o ? UP : DOWN;
          const cx = xs(i);
          const top = ys(Math.max(o, c));
          const bot = ys(Math.min(o, c));
          const bh = Math.max(bot - top, 1.6);
          return (
            <g key={i}>
              <line x1={cx} x2={cx} y1={ys(h)} y2={ys(l)} stroke={col} strokeWidth={1.3} />
              <rect x={cx - bw / 2} y={(top + bot) / 2 - bh / 2} width={bw} height={bh} fill={col} />
            </g>
          );
        })}
      </g>
      <rect x={x0} y={y0} width={AX_W} height={AX_H} fill="none" stroke={AXIS} strokeWidth={1.9} />
      {yTicks.map((v) => (
        <g key={`y${v}`}>
          <line x1={x0 - TICK_LEN} x2={x0} y1={ys(v)} y2={ys(v)} stroke={AXIS} strokeWidth={1.9} />
          <text x={x0 - TICK_LEN - 7} y={ys(v)} textAnchor="end" dominantBaseline="central"
            fontSize={TICK_FS} fontFamily={FONT} fill="#000">{spec.fmt(v)}</text>
        </g>
      ))}
      {xTicks.map((t, j) => {
        const tx = xs(t);
        const ty = bottom + 34;
        return (
          <g key={`x${t}`}>
            <line x1={tx} x2={tx} y1={bottom} y2={bottom + TICK_LEN} stroke={AXIS} strokeWidth={1.9} />
            {j < spec.dates.length && (
              <text x={tx} y={ty} textAnchor="middle" dominantBaseline="central"
                transform={`rotate(-15, ${tx}, ${ty})`}
                fontSize={TICK_FS + 1} fontFamily={FONT} fill="#000">{spec.dates[j]}</text>
            )}
          </g>
        );
      })}
      <text x={x0 + AX_W / 2} y={y0 - 12} textAnchor="middle" fontSize={TITLE_FS} fontFamily={FONT} fill="#000">
        {spec.title}
      </text>
      {spec.offset && (
        <text x={x0} y={y0 - 6} textAnchor="start" fontSize={TICK_FS} fontFamily={FONT} fill="#000">
          {spec.offset}
        </text>
      )}
    </g>
  );
}

export default function App() {
  return (
    <svg width={W} height={H} viewBox={`0 0 ${W} ${H}`}
      style={{ position: 'absolute', left: 0, top: 0, display: 'block', background: '#fff' }}>
      <rect x={0} y={0} width={W} height={H} fill="#fff" />
      <text x={W / 2} y={34} textAnchor="middle" dominantBaseline="central" fontSize={MAIN_FS}
        fontFamily={FONT} fill="#000">{MAIN_TITLE}</text>
      {specs.map((s, i) => (
        <Panel key={i} spec={s} x0={COL_X[i % 3]} y0={ROW_Y[Math.floor(i / 3)]} />
      ))}
    </svg>
  );
}
